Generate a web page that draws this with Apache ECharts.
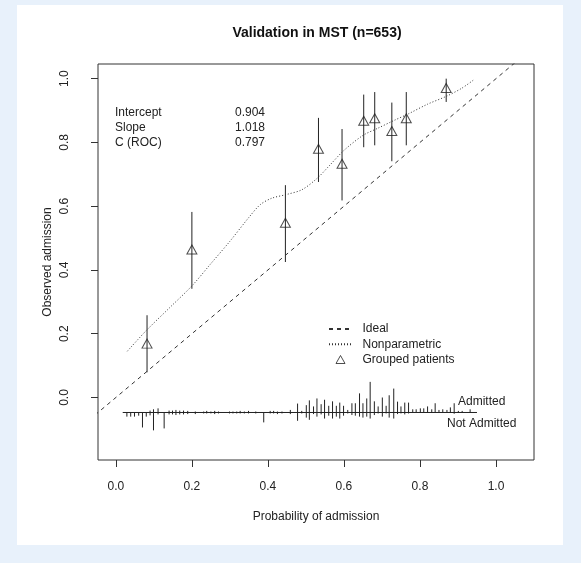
<!DOCTYPE html>
<html>
<head>
<meta charset="utf-8">
<script src="https://cdn.jsdelivr.net/npm/echarts@6/dist/echarts.min.js"></script>
<style>
  html, body { margin: 0; padding: 0; background: #e8f1fb; }
  #chart { width: 581px; height: 563px; }
</style>
</head>
<body>
<div id="chart"></div>
<script>
// tick labels
const xTicks = [0, 0.2, 0.4, 0.6, 0.8, 1.0]
const yTicks = [0, 0.2, 0.4, 0.6, 0.8, 1.0]

// grouped patients (triangles) with their error bars
const groupX  = [0.082, 0.200, 0.446, 0.533, 0.595, 0.652, 0.681, 0.726, 0.764, 0.869]
const groupY  = [0.169, 0.464, 0.548, 0.780, 0.733, 0.868, 0.876, 0.836, 0.876, 0.971]
const groupLo = [0.079, 0.341, 0.425, 0.676, 0.618, 0.785, 0.791, 0.741, 0.791, 0.927]
const groupHi = [0.258, 0.582, 0.666, 0.877, 0.842, 0.950, 0.958, 0.925, 0.958, 1.000]

// nonparametric (lowess) curve
const npX = [0.03, 0.08, 0.14, 0.20, 0.25, 0.30, 0.35, 0.38, 0.41, 0.45, 0.49, 0.53, 0.56, 0.60, 0.65, 0.69, 0.73, 0.77, 0.82, 0.87, 0.91, 0.94]
const npY = [0.145, 0.21, 0.28, 0.35, 0.42, 0.49, 0.565, 0.605, 0.625, 0.637, 0.652, 0.688, 0.725, 0.775, 0.822, 0.845, 0.868, 0.89, 0.92, 0.945, 0.97, 0.995]

// ideal line y = x
const idealX = [-0.2, 1.2]

// stats box
const statNames = ['Intercept', 'Slope', 'C (ROC)']
const statValues = ['0.904', '1.018', '0.797']

// spike histogram: bin position, length up (admitted) and down (not admitted), in y units
const spikeBase = -0.047
const spikeRange = [0.018, 0.95]
const spikeX = [0.029, 0.039, 0.049, 0.060, 0.070, 0.080, 0.090, 0.099, 0.111, 0.127,
  0.140, 0.149, 0.158, 0.168, 0.178, 0.189, 0.209, 0.231, 0.239, 0.250,
  0.260, 0.270, 0.299, 0.308, 0.318, 0.327, 0.338, 0.349, 0.368, 0.389,
  0.406, 0.415, 0.425, 0.437, 0.459, 0.478, 0.489, 0.501, 0.509, 0.520,
  0.529, 0.540, 0.549, 0.560, 0.570, 0.580, 0.589, 0.599, 0.610, 0.621,
  0.630, 0.641, 0.650, 0.660, 0.669, 0.680, 0.690, 0.701, 0.711, 0.719,
  0.731, 0.741, 0.750, 0.760, 0.770, 0.781, 0.790, 0.801, 0.810, 0.820,
  0.831, 0.840, 0.850, 0.860, 0.871, 0.880, 0.890, 0.901, 0.911, 0.932]
const spikeUp = [0, 0, 0, 0, 0, 0, 0.006, 0.010, 0.013, 0,
  0.006, 0.006, 0.008, 0.006, 0.006, 0.005, 0.003, 0.003, 0.005, 0.003,
  0.005, 0.003, 0.003, 0.003, 0.003, 0.005, 0.003, 0.005, 0.003, 0,
  0.005, 0.005, 0.003, 0.003, 0.008, 0.028, 0.005, 0.023, 0.038, 0.019,
  0.044, 0.026, 0.040, 0.021, 0.035, 0.021, 0.031, 0.021, 0.008, 0.029,
  0.029, 0.060, 0.029, 0.044, 0.096, 0.035, 0.019, 0.047, 0.021, 0.054,
  0.075, 0.034, 0.019, 0.031, 0.031, 0.010, 0.010, 0.013, 0.013, 0.019,
  0.010, 0.029, 0.008, 0.010, 0.008, 0.016, 0.029, 0.005, 0.005, 0.010]
const spikeDown = [0.013, 0.013, 0.013, 0.010, 0.047, 0.013, 0.009, 0.056, 0.006, 0.050,
  0.006, 0.006, 0.008, 0.006, 0.006, 0.005, 0.005, 0.003, 0.003, 0.003,
  0.005, 0.003, 0.003, 0.003, 0.003, 0.003, 0.003, 0.003, 0.003, 0.031,
  0.003, 0.003, 0.005, 0.003, 0.005, 0.026, 0.003, 0.016, 0.023, 0.005,
  0.013, 0.006, 0.019, 0.010, 0.019, 0.013, 0.019, 0.010, 0.003, 0.008,
  0.010, 0.013, 0.016, 0.013, 0.019, 0.008, 0.003, 0.013, 0.003, 0.016,
  0.019, 0.005, 0.003, 0.006, 0.003, 0, 0, 0, 0, 0,
  0, 0, 0, 0, 0, 0, 0.004, 0, 0, 0]

const font = '"Liberation Sans", Arial, sans-serif'
const chart = echarts.init(document.getElementById('chart'))

const vLine = (params, api) => {
  const p1 = api.coord([api.value(0), api.value(1)])
  const p2 = api.coord([api.value(0), api.value(2)])
  return {
    type: 'line',
    shape: { x1: p1[0], y1: p1[1], x2: p2[0], y2: p2[1] },
    style: { stroke: '#222', lineWidth: 1 }
  }
}

const legendText = { fontSize: 12, color: '#222', fontFamily: font, lineHeight: 14 }

const option = {
  animation: false,
  textStyle: { fontFamily: font },
  grid: {
    left: 98, top: 64, width: 436, height: 396,
    show: true, borderColor: '#333', borderWidth: 1, backgroundColor: 'transparent'
  },
  xAxis: {
    type: 'value', min: -0.047, max: 1.10,
    name: 'Probability of admission', nameLocation: 'middle', nameGap: 51,
    nameTextStyle: { fontSize: 12, color: '#222', fontFamily: font },
    axisLine: { show: false, onZero: false },
    splitLine: { show: false },
    axisTick: { show: true, inside: false, length: 7, customValues: xTicks, lineStyle: { color: '#333' } },
    axisLabel: { customValues: xTicks, margin: 21, fontSize: 12, color: '#222', fontFamily: font,
      formatter: v => v.toFixed(1) }
  },
  yAxis: {
    type: 'value', min: -0.196, max: 1.046,
    name: 'Observed admission', nameLocation: 'middle', nameGap: 44, nameMoveOverlap: false,
    nameTextStyle: { fontSize: 12, color: '#222', fontFamily: font },
    axisLine: { show: false, onZero: false },
    splitLine: { show: false },
    axisTick: { show: true, inside: false, length: 7, customValues: yTicks, lineStyle: { color: '#333' } },
    axisLabel: { customValues: yTicks, margin: 27, rotate: 90, fontSize: 12, color: '#222', fontFamily: font,
      formatter: v => v.toFixed(1) }
  },
  legend: [
    {
      orient: 'vertical', left: 323, top: 317,
      itemWidth: 22, itemHeight: 8, itemGap: 1.2,
      itemStyle: { opacity: 0 },
      textStyle: Object.assign({ padding: [0, 0, 0, 6.5] }, legendText),
      data: ['Ideal', 'Nonparametric']
    },
    {
      orient: 'vertical', left: 330.5, top: 347.5,
      itemWidth: 9, itemHeight: 8,
      itemStyle: { borderWidth: 1 },
      textStyle: Object.assign({ padding: [0, 0, 0, 12.5] }, legendText),
      data: ['Grouped patients']
    }
  ],
  series: [
    {
      name: 'Ideal', type: 'line', symbol: 'none', clip: true,
      data: idealX.map(x => [x, x]),
      itemStyle: { color: '#333' },
      lineStyle: { color: '#333', width: 1, type: [4, 4] }
    },
    {
      name: 'Nonparametric', type: 'line', symbol: 'none', smooth: 0.3,
      data: npX.map((x, i) => [x, npY[i]]),
      itemStyle: { color: '#333' },
      lineStyle: { color: '#333', width: 1, type: [1, 2] }
    },
    {
      type: 'custom', renderItem: vLine,
      data: groupX.map((x, i) => [x, groupLo[i], groupHi[i]])
    },
    {
      name: 'Grouped patients', type: 'scatter', symbol: 'triangle', symbolSize: [10, 9],
      data: groupX.map((x, i) => [x, groupY[i]]),
      itemStyle: { color: 'rgba(255,255,255,0)', borderColor: '#222', borderWidth: 1 }
    },
    {
      type: 'line', symbol: 'none',
      data: spikeRange.map(x => [x, spikeBase]),
      lineStyle: { color: '#222', width: 1 }
    },
    {
      type: 'custom', renderItem: vLine,
      data: spikeX.map((x, i) => [x, spikeBase - spikeDown[i], spikeBase + spikeUp[i]])
    }
  ],
  graphic: [
    { type: 'rect', z: -100, shape: { x: 17, y: 5, width: 546, height: 540 }, style: { fill: '#fff' } },
    { type: 'text', x: 317, y: 33, style: { text: 'Validation in MST (n=653)', font: 'bold 14px ' + font,
      fill: '#111', align: 'center', verticalAlign: 'middle' } },
    ...statNames.map((t, i) => ({ type: 'text', x: 115, y: 113 + i * 15,
      style: { text: t, font: '12px ' + font, fill: '#222', verticalAlign: 'middle' } })),
    ...statValues.map((t, i) => ({ type: 'text', x: 235, y: 113 + i * 15,
      style: { text: t, font: '12px ' + font, fill: '#222', verticalAlign: 'middle' } })),
    { type: 'text', x: 458, y: 402, style: { text: 'Admitted', font: '12px ' + font, fill: '#222', verticalAlign: 'middle' } },
    { type: 'text', x: 447, y: 424, style: { text: 'Not Admitted', font: '12px ' + font, fill: '#222', verticalAlign: 'middle' } }
  ]
}
chart.setOption(option)
</script>
</body>
</html>
